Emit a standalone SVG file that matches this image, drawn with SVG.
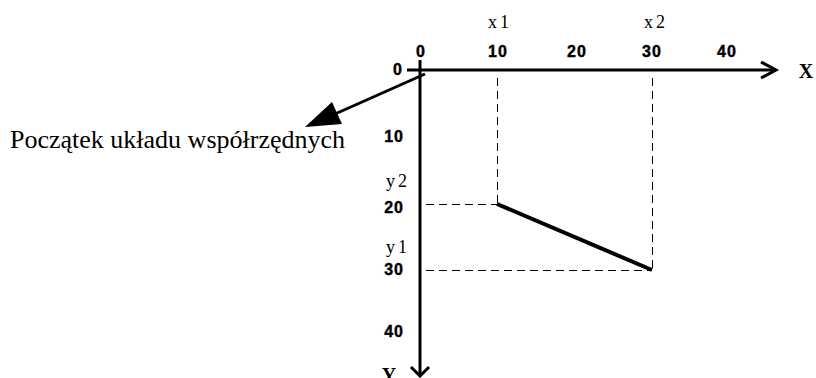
<svg xmlns="http://www.w3.org/2000/svg" width="816" height="378" viewBox="0 0 816 378">
<defs>
<style>
.num{font-family:"Liberation Sans",Arial,sans-serif;font-weight:bold;font-size:16px;letter-spacing:1px;fill:#000;stroke:#000;stroke-width:0.4px}
.lbl{font-family:"Liberation Serif","Times New Roman",serif;font-size:18px;fill:#000}
.axis{stroke:#000;stroke-width:3;fill:none}
.dash{stroke:#000;stroke-width:1;stroke-dasharray:8,5;fill:none}
</style>
</defs>
<rect width="816" height="378" fill="#fff"/>
<g id="connectors">
<line class="dash" x1="497.5" y1="78" x2="497.5" y2="204"/>
<line class="dash" x1="652.5" y1="78" x2="652.5" y2="270"/>
<line class="dash" x1="426" y1="204.5" x2="497" y2="204.5"/>
<line class="dash" x1="426" y1="270.5" x2="652" y2="270.5"/>
<line x1="497" y1="204" x2="652" y2="270" stroke="#000" stroke-width="4"/>
<line class="axis" x1="407" y1="70" x2="775" y2="70"/>
<polyline class="axis" points="761,62 776,70 761,78"/>
<line class="axis" x1="420" y1="60" x2="420" y2="376"/>
<polyline class="axis" points="411,367 420,376 429,367"/>
<line x1="425" y1="74" x2="335" y2="114" stroke="#000" stroke-width="3"/>
<polygon points="305,127 332,102 342,124" fill="#000"/>
</g>
<g id="x-labels">
<text class="num" x="421" y="57" text-anchor="middle">0</text>
<text class="num" x="498" y="57" text-anchor="middle">10</text>
<text class="num" x="577" y="57" text-anchor="middle">20</text>
<text class="num" x="652" y="57" text-anchor="middle">30</text>
<text class="num" x="727" y="57" text-anchor="middle">40</text>
<text class="lbl" x="500" y="28" text-anchor="middle" letter-spacing="3">x1</text>
<text class="lbl" x="656" y="28" text-anchor="middle" letter-spacing="3">x2</text>
<text x="806" y="78" text-anchor="middle" font-family="Liberation Serif,serif" font-weight="bold" font-size="20">X</text>
</g>
<g id="y-labels">
<text class="num" x="403" y="75" text-anchor="end">0</text>
<text class="num" x="404" y="142" text-anchor="end">10</text>
<text class="num" x="404" y="213" text-anchor="end">20</text>
<text class="num" x="404" y="275" text-anchor="end">30</text>
<text class="num" x="404" y="337" text-anchor="end">40</text>
<text class="lbl" x="398" y="187" text-anchor="middle" letter-spacing="3">y2</text>
<text class="lbl" x="398" y="253" text-anchor="middle" letter-spacing="3">y1</text>
<text x="389" y="382" text-anchor="middle" font-family="Liberation Serif,serif" font-weight="bold" font-size="20">Y</text>
</g>
<g id="origin-label">
<text x="10" y="148" font-family="Liberation Serif,'Times New Roman',serif" font-size="26">Początek układu współrzędnych</text>
</g>
</svg>
